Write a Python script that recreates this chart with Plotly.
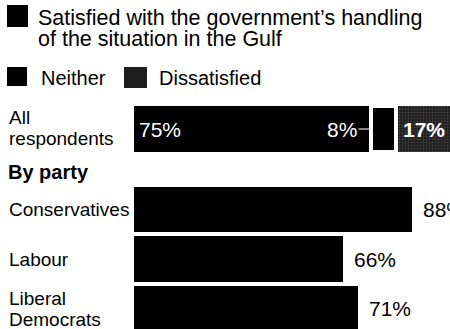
import plotly.graph_objects as go

# ---- data ----
all_label = ["All", "respondents"]
all_satisfied = 75
all_neither = 8
all_dissatisfied = 17

party_labels = [["Conservatives"], ["Labour"], ["Liberal", "Democrats"]]
party_satisfied = [88, 66, 71]

legend_satisfied = ["Satisfied with the government\u2019s handling", "of the situation in the Gulf"]
legend_neither = "Neither"
legend_dissatisfied = "Dissatisfied"
section_title = "<b>By party</b>"

# ---- layout helpers (positions, sizes, styles) ----
W, H = 450, 329
FONT = "Liberation Sans, Arial, Helvetica, sans-serif"
FS_LABEL = 19
FS_VAL = 21
FS_LEG = 20
LINE = 21  # px between text lines
row_all = 0.0
party_rows = [1.626, 2.626, 3.626]
y_range = [4.04, -2.606]
bar_w = 0.91
black = "#000000"
diss_col = "#2a2a2a"

fig = go.Figure()

fig.add_trace(go.Bar(x=[all_satisfied], y=[row_all], base=[0], orientation="h",
                     width=bar_w, marker=dict(color=black, line=dict(width=0)),
                     hoverinfo="skip"))
fig.add_trace(go.Bar(x=[all_dissatisfied], y=[row_all], base=[all_satisfied + all_neither],
                     orientation="h", width=bar_w,
                     marker=dict(color=diss_col, line=dict(width=0),
                                 pattern=dict(shape=".", fgcolor="#6a6a6a", bgcolor="#1c1c1c",
                                              size=3, solidity=0.35)),
                     hoverinfo="skip"))
fig.add_trace(go.Bar(x=[all_neither], y=[row_all], base=[all_satisfied], orientation="h",
                     width=bar_w, marker=dict(color=black, line=dict(width=4, color="white")),
                     hoverinfo="skip"))
fig.add_trace(go.Bar(x=party_satisfied, y=party_rows, base=[0] * len(party_rows),
                     orientation="h", width=bar_w,
                     marker=dict(color=black, line=dict(width=0)), hoverinfo="skip"))

ann = []


def add_lines(lines, x, y, yref, size, shift=0, bold=False):
    n = len(lines)
    for i, t in enumerate(lines):
        ann.append(dict(x=x, xref="paper", y=y, yref=yref,
                        text=f"<b>{t}</b>" if bold else t,
                        xanchor="left", yanchor="middle", showarrow=False,
                        yshift=shift - (i - (n - 1) / 2) * LINE,
                        font=dict(size=size, family=FONT, color="black")))


# row labels
add_lines(all_label, 7 / W, row_all, "y", FS_LABEL, shift=1)
for lab, r in zip(party_labels, party_rows):
    add_lines(lab, 7 / W, r, "y", FS_LABEL)

# value labels
ann.append(dict(x=0, xref="x", y=row_all, yref="y", text=f"{all_satisfied}%",
                xanchor="left", yanchor="middle", xshift=3, showarrow=False,
                font=dict(color="white", size=FS_VAL, family=FONT)))
ann.append(dict(x=all_satisfied + 0.6, xref="x", y=row_all, yref="y", text=f"{all_neither}%",
                showarrow=True, arrowhead=0, arrowwidth=1, arrowcolor="white",
                ax=-31, ay=0, font=dict(color="white", size=FS_VAL, family=FONT)))
ann.append(dict(x=all_satisfied + all_neither + all_dissatisfied / 2, xref="x", y=row_all,
                yref="y", text=f"<b>{all_dissatisfied}%</b>", showarrow=False,
                xshift=1, font=dict(color="white", size=FS_VAL, family=FONT)))
for v, r in zip(party_satisfied, party_rows):
    ann.append(dict(x=v, xref="x", y=r, yref="y", text=f"{v}%", xanchor="left",
                    yanchor="middle", xshift=9, showarrow=False,
                    font=dict(size=FS_VAL, family=FONT, color="black")))

# section title
ann.append(dict(x=6 / W, xref="paper", y=1 - 172 / H, yref="paper", text=section_title,
                xanchor="left", yanchor="middle", showarrow=False,
                font=dict(size=20, family=FONT, color="black")))
# legend texts
add_lines(legend_satisfied, 36 / W, 1 - 28 / H, "paper", 21.5)
ann.append(dict(x=39 / W, xref="paper", y=1 - 78 / H, yref="paper", text=legend_neither,
                xanchor="left", yanchor="middle", showarrow=False,
                font=dict(size=FS_LEG, family=FONT, color="black")))
ann.append(dict(x=157 / W, xref="paper", y=1 - 78 / H, yref="paper", text=legend_dissatisfied,
                xanchor="left", yanchor="middle", showarrow=False,
                font=dict(size=FS_LEG, family=FONT, color="black")))

shapes = [
    dict(type="rect", xref="paper", yref="paper", x0=7 / W, x1=28 / W,
         y0=1 - 27 / H, y1=1 - 5 / H, fillcolor=black, line=dict(width=0)),
    dict(type="rect", xref="paper", yref="paper", x0=7 / W, x1=27 / W,
         y0=1 - 86 / H, y1=1 - 67 / H, fillcolor=black, line=dict(width=0)),
    dict(type="rect", xref="paper", yref="paper", x0=124 / W, x1=147 / W,
         y0=1 - 88 / H, y1=1 - 67 / H, fillcolor="#1e1e1e", line=dict(width=0)),
]

fig.update_layout(
    width=W, height=H, margin=dict(l=0, r=0, t=0, b=0, pad=0),
    paper_bgcolor="white", plot_bgcolor="white",
    barmode="overlay", bargap=0, showlegend=False,
    font=dict(family=FONT, size=FS_LABEL, color="black"),
    xaxis=dict(domain=[134 / W, 1], range=[0, 100], visible=False, fixedrange=True),
    yaxis=dict(domain=[0, 1], range=y_range, visible=False, fixedrange=True),
    annotations=ann, shapes=shapes,
)
fig.update_traces(cliponaxis=False)

fig.write_html("out.html", config={"displayModeBar": False},
               post_script="document.body.style.margin='0';")
